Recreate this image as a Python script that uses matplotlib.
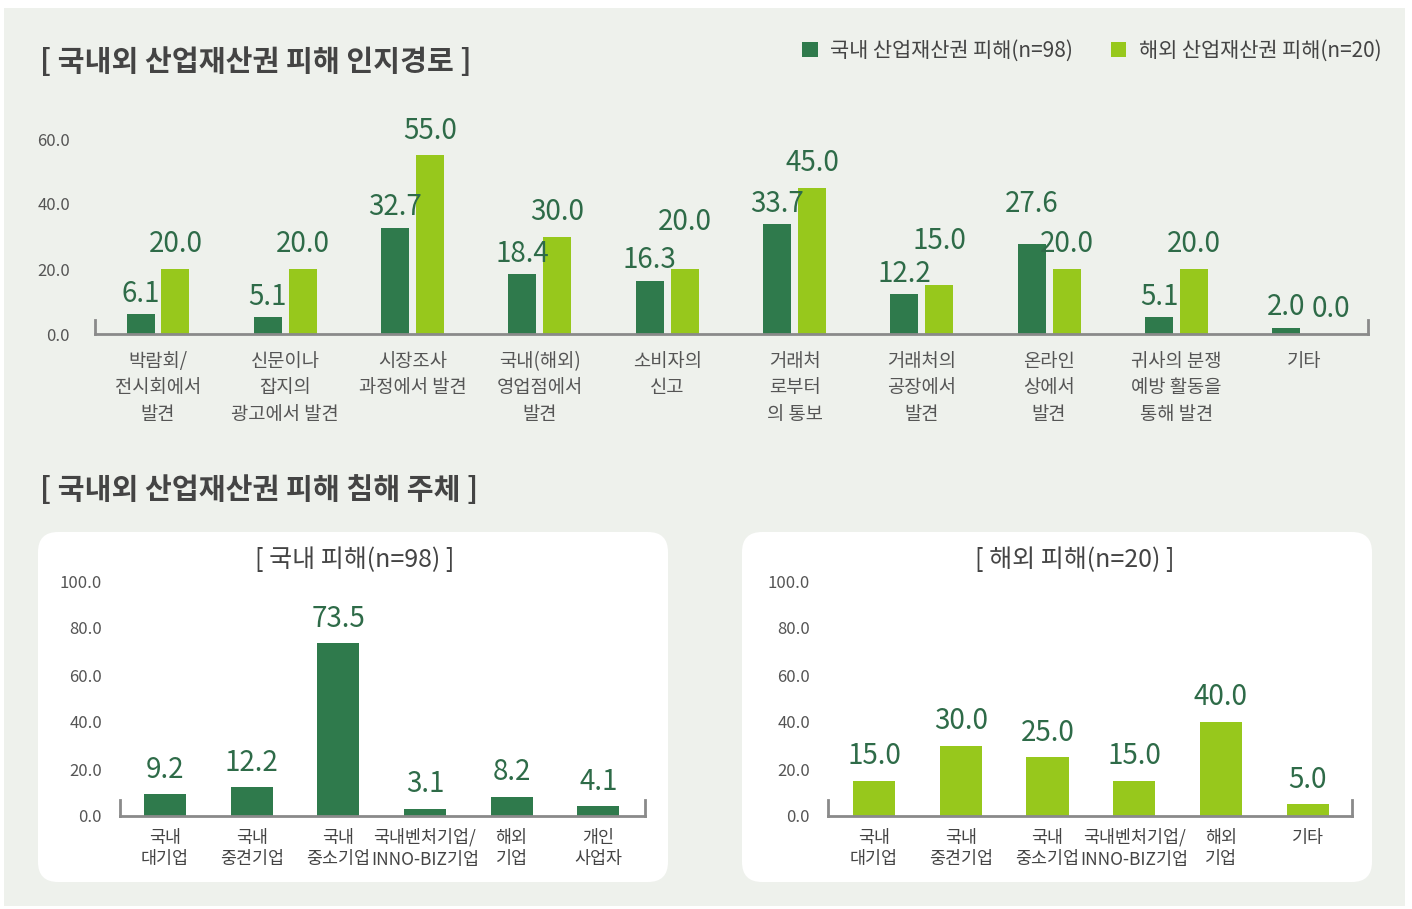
import matplotlib
matplotlib.use("Agg")
import matplotlib.pyplot as plt
import numpy as np
from matplotlib.patches import Rectangle, FancyBboxPatch

plt.rcParams['font.family'] = ['Noto Sans CJK KR', 'DejaVu Sans']

# data - 인지경로
routes = ['박람회/\n전시회에서\n발견', '신문이나\n잡지의\n광고에서 발견', '시장조사\n과정에서 발견',
          '국내(해외)\n영업점에서\n발견', '소비자의\n신고', '거래처\n로부터\n의 통보',
          '거래처의\n공장에서\n발견', '온라인\n상에서\n발견', '귀사의 분쟁\n예방 활동을\n통해 발견', '기타']
route_domestic = [6.1, 5.1, 32.7, 18.4, 16.3, 33.7, 12.2, 27.6, 5.1, 2.0]
route_overseas = [20.0, 20.0, 55.0, 30.0, 20.0, 45.0, 15.0, 20.0, 20.0, 0.0]

# data - 침해 주체
subj_domestic = ['국내\n대기업', '국내\n중견기업', '국내\n중소기업', '국내벤처기업/\nINNO-BIZ기업', '해외\n기업', '개인\n사업자']
val_domestic = [9.2, 12.2, 73.5, 3.1, 8.2, 4.1]
subj_overseas = ['국내\n대기업', '국내\n중견기업', '국내\n중소기업', '국내벤처기업/\nINNO-BIZ기업', '해외\n기업', '기타']
val_overseas = [15.0, 30.0, 25.0, 15.0, 40.0, 5.0]

DARK = '#2f7a4c'
LIGHT = '#97c81c'
LBL = '#2e6b48'
TXT = '#444444'
AXC = '#8a8a8a'

W, H = 1412, 909


def fy(y):
    return 1 - y / H


fig = plt.figure(figsize=(W / 100, H / 100), dpi=100)
fig.patch.set_facecolor('white')
fig.patches.append(Rectangle((4 / W, fy(906)), 1401 / W, 898 / H, transform=fig.transFigure,
                             facecolor='#eef1ec', edgecolor='none', zorder=-10))


def style_axis(ax, top):
    ax.set_facecolor('none')
    ax.spines['top'].set_visible(False)
    for s in ['left', 'right', 'bottom']:
        ax.spines[s].set_color(AXC)
        ax.spines[s].set_linewidth(2)
    ax.spines['left'].set_bounds(0, top * 0.07)
    ax.spines['right'].set_bounds(0, top * 0.07)
    ax.tick_params(length=0)


# ---- top chart
fig.text(40 / W, fy(62), '[ 국내외 산업재산권 피해 인지경로 ]', fontsize=21, fontweight='bold',
         color=TXT, va='center', ha='left')

ax = fig.add_axes([95 / W, fy(334), (1368 - 95) / W, (334 - 139) / H])
style_axis(ax, 60)
x = np.arange(len(routes))
bw = 0.22
off = 0.137
b1 = ax.bar(x - off, route_domestic, width=bw, color=DARK, label='국내 산업재산권 피해(n=98)')
b2 = ax.bar(x + off, route_overseas, width=bw, color=LIGHT, label='해외 산업재산권 피해(n=20)')
ax.set_xlim(-0.495, 9.505)
ax.set_ylim(0, 60)
ax.set_yticks([0, 20, 40, 60], ['0.0', '20.0', '40.0', '60.0'])
ax.set_xticks(x, routes)
ax.tick_params(axis='y', pad=18, labelsize=12, labelcolor='#555555')
ax.tick_params(axis='x', pad=12, labelsize=13.5, labelcolor='#555555')
for t in ax.get_xticklabels():
    t.set_linespacing(1.35)

# label nudges (points) where labels of a pair would collide
dark_nudge = {7: (0, 14)}
light_nudge = {4: (0, 16), 6: (0, 14), 9: (7, 0)}
for i, v in enumerate(route_domestic):
    dx, dy = dark_nudge.get(i, (0, 0))
    ax.annotate(f'{v:.1f}', (x[i] - off, v), xytext=(dx, 4 + dy), textcoords='offset points',
                ha='center', va='bottom', fontsize=20, color=LBL)
for i, v in enumerate(route_overseas):
    dx, dy = light_nudge.get(i, (0, 0))
    ax.annotate(f'{v:.1f}', (x[i] + off, v), xytext=(dx, 7 + dy), textcoords='offset points',
                ha='center', va='bottom', fontsize=20, color=LBL)

leg = fig.legend(handles=[b1, b2], loc='center right', bbox_to_anchor=(1400 / W, fy(51)), ncol=2,
                 frameon=False, fontsize=15, handlelength=0.75, handleheight=0.75,
                 handletextpad=0.6, columnspacing=1.8)
for t in leg.get_texts():
    t.set_color(TXT)

# ---- bottom charts
fig.text(40 / W, fy(490), '[ 국내외 산업재산권 피해 침해 주체 ]', fontsize=21, fontweight='bold',
         color=TXT, va='center', ha='left')

for bx in [38, 742]:
    fig.patches.append(FancyBboxPatch((bx / W, fy(882)), 630 / W, 350 / H,
                                      boxstyle='round,pad=0,rounding_size=0.0142',
                                      mutation_aspect=1.553, transform=fig.transFigure,
                                      facecolor='white', edgecolor='none', zorder=-5))

panels = [
    (120, 645, -0.52, 5.54, 355, '[ 국내 피해(n=98) ]', subj_domestic, val_domestic, DARK),
    (828, 1352, -0.53, 5.51, 1075, '[ 해외 피해(n=20) ]', subj_overseas, val_overseas, LIGHT),
]
for x0, x1, lo, hi, tx, title, cats, vals, col in panels:
    fig.text(tx / W, fy(560), title, fontsize=18, color=TXT, ha='center', va='center')
    a = fig.add_axes([x0 / W, fy(816), (x1 - x0) / W, (816 - 581) / H])
    style_axis(a, 100)
    xx = np.arange(len(cats))
    a.bar(xx, vals, width=0.485, color=col)
    a.set_xlim(lo, hi)
    a.set_ylim(0, 100)
    a.set_yticks([0, 20, 40, 60, 80, 100], ['0.0', '20.0', '40.0', '60.0', '80.0', '100.0'])
    a.set_xticks(xx, cats)
    a.tick_params(axis='y', pad=13, labelsize=12, labelcolor='#555555')
    a.tick_params(axis='x', pad=9, labelsize=12.5, labelcolor=TXT)
    for t in a.get_xticklabels():
        t.set_linespacing(1.25)
    for i, v in enumerate(vals):
        a.annotate(f'{v:.1f}', (xx[i], v), xytext=(0, 7), textcoords='offset points',
                   ha='center', va='bottom', fontsize=20, color=LBL)

fig.savefig('out.png', dpi=100, facecolor=fig.get_facecolor())
